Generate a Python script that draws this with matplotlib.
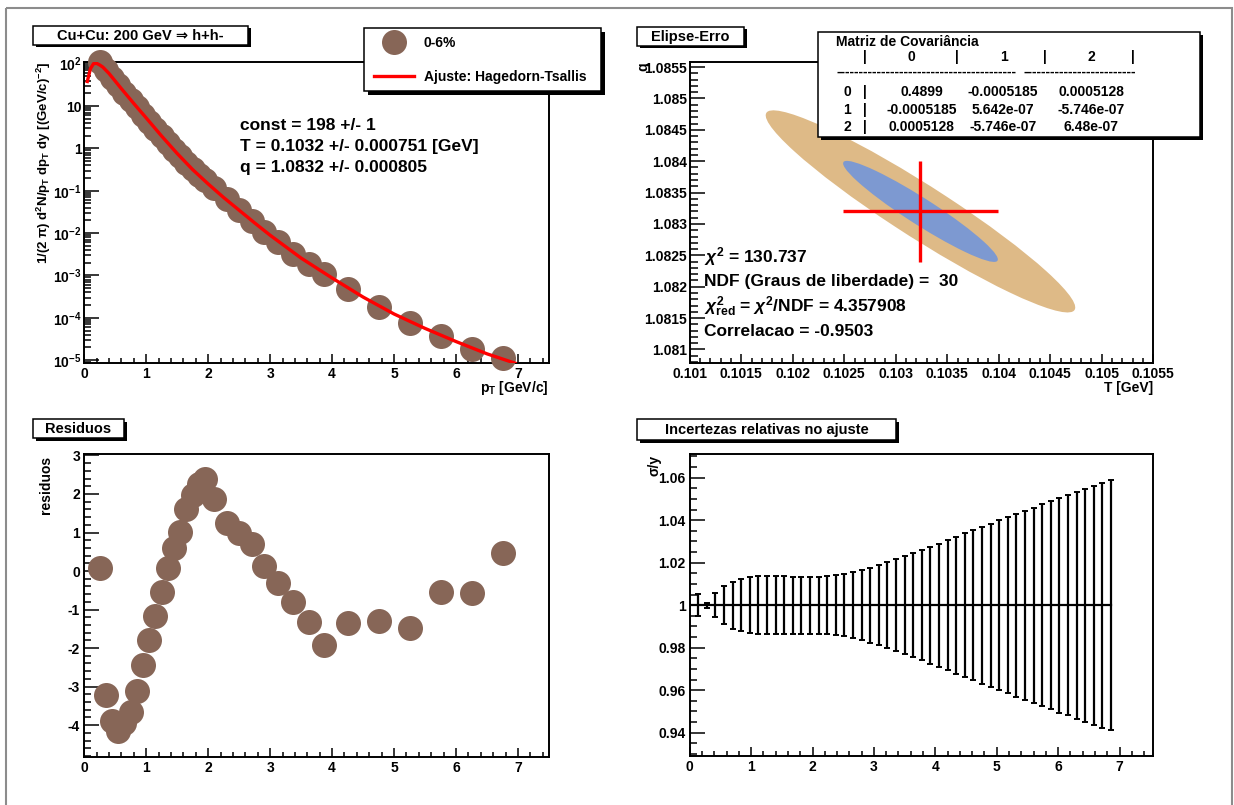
import numpy as np
import matplotlib
matplotlib.use("Agg")
import matplotlib.pyplot as plt
from matplotlib.patches import Rectangle, Ellipse
from matplotlib.ticker import (MultipleLocator, FuncFormatter, LogLocator,
                               NullFormatter)

plt.rcParams["font.family"] = ["Liberation Sans", "DejaVu Sans"]
plt.rcParams["font.weight"] = "bold"
plt.rcParams["mathtext.fontset"] = "custom"
plt.rcParams["mathtext.rm"] = "Liberation Sans:bold"
plt.rcParams["mathtext.it"] = "Liberation Sans:italic:bold"
plt.rcParams["mathtext.bf"] = "Liberation Sans:bold"
plt.rcParams["axes.unicode_minus"] = False

# ---- spectrum, Cu+Cu 200 GeV, 0-6% ----
pt = [0.25, 0.35, 0.45, 0.55, 0.65, 0.75, 0.85, 0.95, 1.05, 1.15, 1.25,
      1.35, 1.45, 1.55, 1.65, 1.75, 1.85, 1.95, 2.1, 2.3, 2.5, 2.7, 2.9,
      3.125, 3.375, 3.625, 3.875, 4.25, 4.75, 5.25, 5.75, 6.25, 6.75]
spectrum = [110, 69.2, 46.8, 30.9, 20.4, 13.8, 9.33, 6.31, 4.27, 2.88, 1.95,
            1.32, 0.912, 0.646, 0.457, 0.331, 0.240, 0.178, 0.115, 0.0631,
            0.0355, 0.0195, 0.0107, 6.03e-3, 3.16e-3, 1.86e-3, 1.07e-3,
            4.68e-4, 1.78e-4, 7.59e-5, 3.80e-5, 1.86e-5, 1.10e-5]
residuals = [0.09, -3.23, -3.89, -4.15, -3.95, -3.65, -3.12, -2.45, -1.79,
             -1.18, -0.55, 0.09, 0.60, 1.02, 1.60, 1.98, 2.25, 2.40, 1.88,
             1.25, 0.98, 0.71, 0.12, -0.30, -0.80, -1.33, -1.93, -1.36,
             -1.30, -1.48, -0.54, -0.57, 0.48]

# Hagedorn-Tsallis fit curve samples
fit_pt = [0.05, 0.10, 0.15, 0.20, 0.25, 0.30, 0.40, 0.50, 0.60, 0.80, 1.00,
          1.25, 1.50, 1.75, 2.00, 2.25, 2.50, 2.75, 3.00, 3.50, 4.00, 4.50,
          5.00, 5.50, 6.00, 6.50, 6.95]
fit_val = [38.0, 75.9, 100, 102, 93.3, 83.2, 58.9, 38.9, 25.7, 11.5, 5.25,
           1.95, 0.759, 0.316, 0.145, 0.0692, 0.0347, 0.0174, 8.91e-3,
           2.57e-3, 8.71e-4, 3.09e-4, 1.23e-4, 5.62e-5, 2.75e-5, 1.41e-5,
           8.51e-6]

# fit results
CONST, CONST_ERR = 198, 1
T_FIT = 0.10324
Q_FIT = 1.0832
chi2 = 130.73724
ndf = 30
cov = [[0.4899, -0.0005185, 0.0005128],
       [-0.0005185, 5.642e-07, -5.746e-07],
       [0.0005128, -5.746e-07, 6.48e-07]]
T_ERR = np.sqrt(cov[1][1])
Q_ERR = np.sqrt(cov[2][2])
rho = cov[1][2] / (T_ERR * Q_ERR)

# relative uncertainty band of the fit
band_x = np.round(np.arange(50) * 0.14, 2)
band_ratio = np.ones(50)
band_err = [0, 0.0053, 0.0012, 0.0057, 0.0090, 0.0110, 0.0122, 0.0132,
            0.0136, 0.0137, 0.0137, 0.0137, 0.0134, 0.0134, 0.0134, 0.0134,
            0.0136, 0.0140, 0.0147, 0.0155, 0.0164, 0.0176, 0.0189, 0.0201,
            0.0216, 0.0230, 0.0244, 0.0259, 0.0275, 0.0289, 0.0305, 0.0322,
            0.0338, 0.0352, 0.0369, 0.0384, 0.0400, 0.0414, 0.0430, 0.0445,
            0.0459, 0.0475, 0.0491, 0.0506, 0.0519, 0.0534, 0.0548, 0.0563,
            0.0577, 0.0589]

BROWN = "#876657"
TAN = "#deba87"
BLUE = "#7d99d1"
W, H = 1234, 805

fig = plt.figure(figsize=(W / 100, H / 100), dpi=100)


def add_ax(x0, y0, x1, y1):
    """axes from pixel box (top-left origin)"""
    return fig.add_axes([x0 / W, 1 - y1 / H, (x1 - x0) / W, (y1 - y0) / H])


def style(ax, xmaj=6.5, xmin=3.3, ymaj=10.5, ymin=5):
    for s in ax.spines.values():
        s.set_linewidth(1.4)
    ax.tick_params(which="both", direction="in", top=False, right=False,
                   labelsize=10, width=1.1, pad=3)
    ax.tick_params(axis="x", which="major", length=xmaj)
    ax.tick_params(axis="x", which="minor", length=xmin)
    ax.tick_params(axis="y", which="major", length=ymaj)
    ax.tick_params(axis="y", which="minor", length=ymin)


gfmt = FuncFormatter(lambda v, p: f"{v:g}")


def log_label(v, pos):
    e = int(round(np.log10(v)))
    if e == 0:
        return "1"
    if e == 1:
        return "10"
    return r"$\mathbf{10}^{\mathbf{%d}}$" % e


# ---- spectrum panel ----
ax1 = add_ax(84.2, 62, 549, 362.7)
pts_line, = ax1.plot(pt, spectrum, "o", ms=18, color=BROWN, mec="none",
                     clip_on=False, zorder=3)
fit_line, = ax1.plot(fit_pt, fit_val, "-", color="red", lw=2.4, zorder=4)
ax1.set_yscale("log")
ax1.set_xlim(0, 7.5)
ax1.set_ylim(10 ** -5.06, 10 ** 2.04)
ax1.xaxis.set_major_locator(MultipleLocator(1))
ax1.xaxis.set_minor_locator(MultipleLocator(0.2))
ax1.yaxis.set_major_locator(LogLocator(base=10, numticks=20))
ax1.yaxis.set_minor_locator(LogLocator(base=10, subs=np.arange(2, 10),
                                       numticks=20))
ax1.yaxis.set_major_formatter(FuncFormatter(log_label))
ax1.yaxis.set_minor_formatter(NullFormatter())
style(ax1)
ax1.tick_params(axis="y", pad=2)

stats = [f"const = {CONST} +/- {CONST_ERR}",
         f"T = {T_FIT:.4f} +/- {T_ERR:.6f} [GeV]",
         f"q = {Q_FIT:.4f} +/- {Q_ERR:.6f}"]

# ---- error ellipse panel ----
ax2 = add_ax(689.7, 62, 1153.3, 363.3)
sub = np.array([[cov[1][1], cov[1][2]], [cov[2][1], cov[2][2]]])
evals, evecs = np.linalg.eigh(sub)
angle = np.degrees(np.arctan2(evecs[1, 1], evecs[0, 1]))
for nsig, col in [(2, TAN), (1, BLUE)]:
    ax2.add_patch(Ellipse((T_FIT, Q_FIT), 2 * nsig * np.sqrt(evals[1]),
                          2 * nsig * np.sqrt(evals[0]), angle=angle,
                          facecolor=col, edgecolor="none", zorder=1))
ax2.errorbar([T_FIT], [Q_FIT], xerr=[T_ERR], yerr=[Q_ERR], fmt="none",
             ecolor="red", elinewidth=2.4, capsize=0, zorder=3)
ax2.set_xlim(0.101, 0.1055)
ax2.set_ylim(1.08078, 1.08558)
ax2.xaxis.set_major_locator(MultipleLocator(0.0005))
ax2.xaxis.set_minor_locator(MultipleLocator(0.0001))
ax2.yaxis.set_major_locator(MultipleLocator(0.0005))
ax2.yaxis.set_minor_locator(MultipleLocator(0.0001))
ax2.xaxis.set_major_formatter(gfmt)
ax2.yaxis.set_major_formatter(gfmt)
style(ax2, ymaj=10.5, ymin=5.5)
ax2.tick_params(axis="y", pad=2)

# ---- residuals panel ----
ax3 = add_ax(84.2, 454.3, 549, 756.7)
ax3.plot(pt, residuals, "o", ms=18, color=BROWN, mec="none", clip_on=False)
ax3.set_xlim(0, 7.5)
ax3.set_ylim(-4.82, 3.03)
ax3.xaxis.set_major_locator(MultipleLocator(1))
ax3.xaxis.set_minor_locator(MultipleLocator(0.2))
ax3.yaxis.set_major_locator(MultipleLocator(1))
ax3.yaxis.set_minor_locator(MultipleLocator(0.2))
ax3.yaxis.set_major_formatter(gfmt)
style(ax3)

# ---- relative uncertainty panel ----
ax4 = add_ax(689.7, 454.3, 1153.3, 756)
ax4.errorbar(band_x, band_ratio, yerr=band_err, fmt="-", color="black",
             lw=1.6, elinewidth=1.6, capsize=2.2, capthick=1.4)
ax4.set_xlim(0, 7.55)
ax4.set_ylim(0.929, 1.071)
ax4.xaxis.set_major_locator(MultipleLocator(1))
ax4.xaxis.set_minor_locator(MultipleLocator(0.2))
ax4.yaxis.set_major_locator(MultipleLocator(0.02))
ax4.yaxis.set_minor_locator(MultipleLocator(0.005))
ax4.yaxis.set_major_formatter(gfmt)
style(ax4)

# ---- overlay in pixel coordinates for boxes and captions ----
ov = fig.add_axes([0, 0, 1, 1], zorder=5)
ov.set_xlim(0, W)
ov.set_ylim(H, 0)
ov.axis("off")
ov.patch.set_alpha(0)

ov.add_patch(Rectangle((6, 8), 1225.5, 820, fill=False, ec="#8c8c8c", lw=1.5))


def pave(x0, y0, x1, y1, sh=2.5):
    ov.add_patch(Rectangle((x0 + sh, y0 + sh), x1 - x0, y1 - y0,
                           fc="black", ec="none"))
    ov.add_patch(Rectangle((x0, y0), x1 - x0, y1 - y0, fc="white",
                           ec="black", lw=1.1))


def title_box(x0, y0, x1, y1, txt):
    pave(x0, y0, x1, y1)
    ov.text((x0 + x1) / 2, (y0 + y1) / 2 + 0.5, txt, ha="center",
            va="center", fontsize=10.5)


title_box(33, 26, 248, 45, "Cu+Cu: 200 GeV ⇒ h+h-")
title_box(637, 27, 744, 46, "Elipse-Erro")
title_box(33, 419, 124, 438, "Residuos")
title_box(637, 419, 896, 440, "Incertezas relativas no ajuste")

# legend
pave(364, 28, 601, 91, sh=4)
ov.legend(handles=[pts_line, fit_line],
          labels=["0-6%", "Ajuste: Hagedorn-Tsallis"],
          loc="upper left", bbox_to_anchor=(373.7, 36),
          bbox_transform=ov.transData, frameon=False, fontsize=10,
          handlelength=2.9, handletextpad=0.7, labelspacing=1.42,
          borderpad=0, borderaxespad=0, numpoints=1)

for i, s in enumerate(stats):
    ov.text(240, 126 + i * 20.8, s, fontsize=12.5, ha="left", va="center")

# fit quality in ellipse panel
ell_txt = [(256.7, r"$\chi^{2}$" + f" = {chi2:.3f}"),
           (281.7, f"NDF (Graus de liberdade) =  {ndf}"),
           (306.5, r"$\chi^{2}_{\mathrm{red}}$ = $\chi^{2}$" +
            f"/NDF = {chi2 / ndf:.6f}"),
           (331.7, f"Correlacao = {rho:.4f}")]
for y, s in ell_txt:
    ov.text(704.5, y, s, fontsize=12.5, ha="left", va="center")

# covariance matrix box
pave(818, 32, 1200, 137, sh=3)
ov.text(836.5, 41.7, "Matriz de Covariância", fontsize=10, ha="left",
        va="center")
head_x = [864.7, 911.7, 956.7, 1003.7, 1044.8, 1091.8, 1132.9]
for x, s in zip(head_x, ["|", "0", "|", "1", "|", "2", "|"]):
    ov.text(x, 56.7, s, fontsize=10, ha="center", va="center")
ov.text(836.5, 71.7, "-" * 40, fontsize=10, ha="left", va="center")
ov.text(1023, 71.7, "-" * 25, fontsize=10, ha="left", va="center")
col_x = [921.5, 1003, 1091]
for r, y in enumerate([92.3, 110, 127.3]):
    ov.text(847, y, str(r), fontsize=10, ha="center", va="center")
    ov.text(864.7, y, "|", fontsize=10, ha="center", va="center")
    for c in range(3):
        ov.text(col_x[c], y, "%.4g" % cov[r][c], fontsize=10, ha="center",
                va="center")

# axis titles
ov.text(549, 388, r"p$_{\mathrm{T}}$ [GeV/c]", fontsize=10, ha="right",
        va="center")
ov.text(43.5, 62, r"1/(2 π) d$^{2}$N/p$_{\mathrm{T}}$ dp$_{\mathrm{T}}$ dy "
        r"[(GeV/c)$^{-2}$]", fontsize=9.5, rotation=90, ha="center", va="top")
ov.text(1153, 388, "T [GeV]", fontsize=10, ha="right", va="center")
ov.text(643.5, 62, "q", fontsize=10, rotation=90, ha="center", va="top")
ov.text(46, 456, "residuos", fontsize=10, rotation=90, ha="center",
        va="top")
ov.text(654.5, 455, "σ/y", fontsize=10, rotation=90, ha="center", va="top")

fig.savefig("out.png", dpi=100, facecolor="white")
